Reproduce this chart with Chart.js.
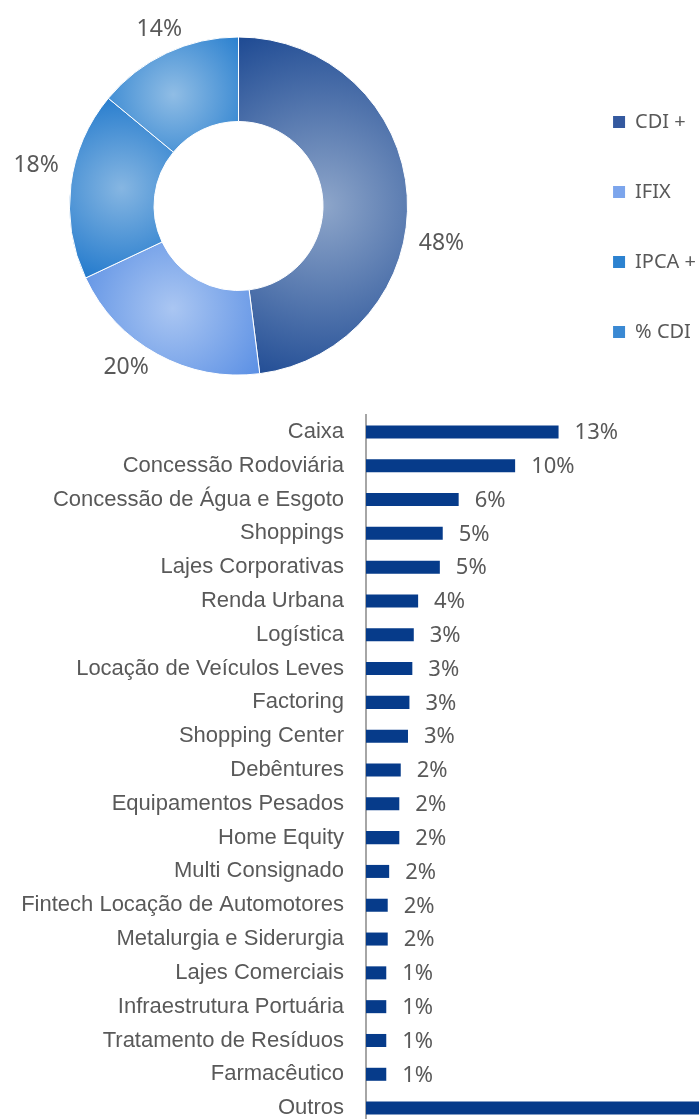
<!DOCTYPE html>
<html lang="pt">
<head>
<meta charset="utf-8">
<title>Alocação</title>
<script src="https://cdn.jsdelivr.net/npm/chart.js@4.4.1/dist/chart.umd.min.js"></script>
<style>
  html, body { margin: 0; padding: 0; background: #fff; }
  body { width: 699px; height: 1119px; overflow: hidden; position: relative; }
  #donutBox { position: absolute; left: -86px; top: 0; width: 792px; height: 392px; }
  #barBox { position: absolute; left: 0; top: 390px; width: 699px; height: 735px; }
</style>
</head>
<body>
<div id="donutBox"><canvas id="donut"></canvas></div>
<div id="barBox"><canvas id="bars"></canvas></div>
<script>
// indexadores (doughnut)
const indexLabels = ["CDI +", "IFIX", "IPCA +", "% CDI"];
const indexShares = [48, 20, 18, 14];

// setores (bars), in %
const sectors = [
  "Caixa", "Concessão Rodoviária", "Concessão de Água e Esgoto", "Shoppings",
  "Lajes Corporativas", "Renda Urbana", "Logística", "Locação de Veículos Leves",
  "Factoring", "Shopping Center", "Debêntures", "Equipamentos Pesados",
  "Home Equity", "Multi Consignado", "Fintech Locação de Automotores",
  "Metalurgia e Siderurgia", "Lajes Comerciais", "Infraestrutura Portuária",
  "Tratamento de Resíduos", "Farmacêutico", "Outros"
];
const sectorShares = [
  13.3, 10.3, 6.4, 5.3, 5.1, 3.6, 3.3, 3.2, 3.0, 2.9, 2.4,
  2.3, 2.3, 1.6, 1.5, 1.5, 1.4, 1.4, 1.4, 1.4, 26.4
];

// colours
const sliceCenter = ["#8ea6ca", "#aac6f2", "#86b6e2", "#90bde5"];
const sliceEdge = ["#1e4a93", "#5a8fe4", "#1c76cb", "#2a80cf"];
const legendFill = ["#34599f", "#7ca5ec", "#2c82d0", "#3a89d3"];
const textGrey = "#595959";
const barBlue = "#063b8a";

Chart.defaults.font.family = "'Noto Sans', sans-serif";
Chart.defaults.color = textGrey;

const OUTER_R = 169;
const labelNudge = [14, 6, 4, 1]; // degrees, like Excel's best-fit labels

// radial gradient per slice, centred on the slice's bounding box
function sliceFill(context) {
  const i = context.dataIndex;
  const chart = context.chart;
  const area = chart.chartArea;
  if (!area || i === undefined) return sliceEdge[i] || sliceEdge[0];
  const cx = (area.left + area.right) / 2;
  const cy = (area.top + area.bottom) / 2;
  const total = indexShares.reduce((a, b) => a + b, 0);
  let before = 0;
  for (let k = 0; k < i; k++) before += indexShares[k];
  const a0 = -Math.PI / 2 + 2 * Math.PI * before / total;
  const a1 = a0 + 2 * Math.PI * indexShares[i] / total;
  let minX = Infinity, maxX = -Infinity, minY = Infinity, maxY = -Infinity;
  for (let s = 0; s <= 60; s++) {
    const a = a0 + (a1 - a0) * s / 60;
    [OUTER_R, OUTER_R / 2].forEach(r => {
      const x = cx + Math.cos(a) * r, y = cy + Math.sin(a) * r;
      minX = Math.min(minX, x); maxX = Math.max(maxX, x);
      minY = Math.min(minY, y); maxY = Math.max(maxY, y);
    });
  }
  const gx = (minX + maxX) / 2, gy = (minY + maxY) / 2;
  const gr = Math.hypot(maxX - minX, maxY - minY) / 2;
  const g = chart.ctx.createRadialGradient(gx, gy, 0, gx, gy, gr);
  g.addColorStop(0, sliceCenter[i]);
  g.addColorStop(1, sliceEdge[i]);
  return g;
}

const donutLabels = {
  id: "donutLabels",
  afterDatasetsDraw(chart) {
    const ctx = chart.ctx;
    const arcs = chart.getDatasetMeta(0).data;
    ctx.save();
    ctx.font = "23px 'Noto Sans', sans-serif";
    ctx.fillStyle = textGrey;
    ctx.textAlign = "center";
    ctx.textBaseline = "middle";
    arcs.forEach((arc, i) => {
      const txt = indexShares[i] + "%";
      const w = ctx.measureText(txt).width;
      const mid = (arc.startAngle + arc.endAngle) / 2 + labelNudge[i] * Math.PI / 180;
      const d = arc.outerRadius + 15 + Math.abs(Math.cos(mid)) * w / 2;
      ctx.fillText(txt, arc.x + Math.cos(mid) * d, arc.y + Math.sin(mid) * d);
    });
    ctx.restore();
  }
};

new Chart(document.getElementById("donut"), {
  type: "doughnut",
  data: {
    labels: indexLabels,
    datasets: [{
      data: indexShares,
      backgroundColor: sliceFill,
      borderColor: "#ffffff",
      borderWidth: 1,
      radius: OUTER_R
    }]
  },
  options: {
    responsive: true,
    maintainAspectRatio: false,
    animation: false,
    cutout: "50%",
    layout: { padding: { top: 20, bottom: 0, left: 0, right: 0 } },
    plugins: {
      tooltip: { enabled: false },
      legend: {
        position: "right",
        align: "end",
        labels: {
          boxWidth: 12,
          boxHeight: 12,
          padding: 50,
          color: textGrey,
          font: { size: 20 },
          generateLabels: () => indexLabels.map((text, i) => ({
            text: text,
            fillStyle: legendFill[i],
            strokeStyle: legendFill[i],
            fontColor: textGrey,
            lineWidth: 0,
            hidden: false,
            index: i
          }))
        }
      }
    }
  },
  plugins: [donutLabels]
});

const barValues = {
  id: "barValues",
  afterDatasetsDraw(chart) {
    const ctx = chart.ctx;
    const bars = chart.getDatasetMeta(0).data;
    ctx.save();
    ctx.font = "22px 'Noto Sans', sans-serif";
    ctx.fillStyle = textGrey;
    ctx.textAlign = "left";
    ctx.textBaseline = "middle";
    bars.forEach((bar, i) => {
      const x = bar.x + 16;
      if (x > chart.chartArea.right) return;
      ctx.fillText(Math.round(sectorShares[i]) + "%", x, bar.y + 1);
    });
    ctx.restore();
  }
};

new Chart(document.getElementById("bars"), {
  type: "bar",
  data: {
    labels: sectors,
    datasets: [{
      data: sectorShares,
      backgroundColor: barBlue,
      categoryPercentage: 1,
      barPercentage: 0.385
    }]
  },
  options: {
    indexAxis: "y",
    responsive: true,
    maintainAspectRatio: false,
    animation: false,
    layout: { padding: { top: 25, right: 0, bottom: 0, left: 0 } },
    plugins: { legend: { display: false }, tooltip: { enabled: false } },
    scales: {
      x: { display: false, min: 0, max: 23 },
      y: {
        grid: { display: false, drawTicks: false },
        border: { display: true, color: "#a6a6a6", width: 2 },
        ticks: {
          autoSkip: false,
          padding: 22,
          color: textGrey,
          font: { family: "'Liberation Sans', Arial, sans-serif", size: 22 }
        },
        afterFit: (scale) => {
          scale.width = 366;
          // labels sit on category centres, no extra room needed above/below
          scale.paddingTop = 0;
          scale.paddingBottom = 0;
        }
      }
    }
  },
  plugins: [barValues]
});
</script>
</body>
</html>
